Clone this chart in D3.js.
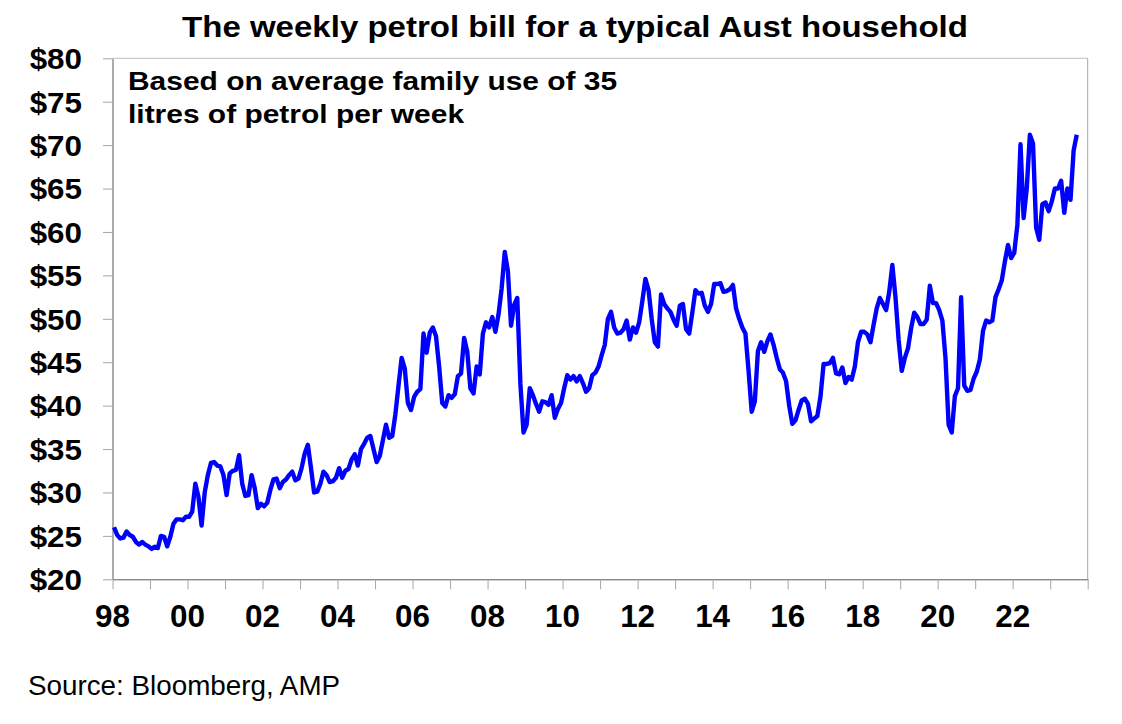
<!DOCTYPE html>
<html>
<head>
<meta charset="utf-8">
<script src="https://cdn.jsdelivr.net/npm/d3@7"></script>
<style>
  body { margin: 0; background: #fff; }
  svg { display: block; font-family: 'Liberation Sans', Arial, sans-serif; }
</style>
</head>
<body>
<div id="chart-area"></div>
<script>
// monthly petrol bill ($/week), Jan 1998 to Sep 2023, one line per year
var weeklyBill = [
    26.0, 25.1, 24.7, 24.8, 25.5, 25.1, 24.9, 24.3, 24.0, 24.3, 24.0, 23.8,
    23.5, 23.75, 23.6, 25.0, 24.9, 23.8, 24.9, 26.4, 26.9, 26.9, 26.8, 27.2,
    27.2, 27.8, 31.0, 29.5, 26.2, 30.0, 32.0, 33.4, 33.5, 33.1, 33.0, 32.0,
    29.7, 32.2, 32.5, 32.6, 34.3, 31.0, 29.6, 29.7, 32.0, 30.5, 28.2, 28.7,
    28.4, 28.8, 30.3, 31.5, 31.6, 30.5, 31.2, 31.5, 32.0, 32.4, 31.4, 31.6,
    32.8, 34.5, 35.5, 32.8, 30.0, 30.1, 31.0, 32.4, 32.0, 31.2, 31.3, 31.7,
    32.8, 31.7, 32.5, 32.7, 33.8, 34.4, 33.1, 35.0, 35.6, 36.3, 36.5, 35.0,
    33.5, 34.2, 36.0, 37.8, 36.3, 36.5, 39.0, 42.3, 45.5, 44.3, 40.3, 39.5,
    41.0, 41.6, 41.9, 48.3, 46.1, 48.4, 49.0, 48.0, 44.5, 40.3, 39.9, 41.2,
    40.9, 41.3, 43.4, 43.7, 47.8, 46.2, 42.0, 41.4, 44.5, 43.6, 48.3, 49.6,
    49.0, 50.2, 48.5, 50.5, 53.5, 57.7, 55.5, 49.2, 51.6, 52.4, 42.5, 36.9,
    37.8, 42.0, 41.2, 40.2, 39.3, 40.5, 40.4, 40.1, 41.2, 38.6, 39.6, 40.3,
    42.0, 43.5, 43.0, 43.4, 42.8, 43.4, 42.6, 41.6, 42.0, 43.5, 43.8, 44.5,
    45.8, 47.0, 50.0, 50.8, 49.0, 48.3, 48.4, 48.8, 49.8, 47.6, 49.0, 48.4,
    49.6, 52.0, 54.6, 53.3, 50.0, 47.3, 46.8, 52.8, 51.7, 51.2, 50.8, 49.9,
    49.2, 51.5, 51.7, 48.8, 48.3, 50.7, 53.3, 52.9, 53.0, 51.5, 50.8, 51.7,
    54.0, 54.0, 54.1, 53.1, 53.2, 53.4, 53.9, 51.2, 50.0, 49.0, 48.3, 44.0,
    39.3, 40.5, 46.3, 47.3, 46.2, 47.4, 48.2, 47.0, 45.5, 44.2, 43.8, 42.8,
    40.0, 37.9, 38.3, 39.5, 40.6, 40.8, 40.2, 38.2, 38.5, 38.8, 41.0, 44.8,
    44.8, 44.9, 45.5, 43.7, 43.6, 44.4, 42.6, 43.3, 43.0, 44.5, 47.3, 48.5,
    48.5, 48.2, 47.3, 49.3, 51.2, 52.4, 51.7, 51.0, 53.1, 56.2, 52.5, 47.6,
    44.0, 45.5, 46.6, 48.9, 50.7, 50.2, 49.4, 49.4, 49.9, 53.8, 51.8, 51.8,
    51.0, 49.8, 45.5, 37.8, 36.9, 41.1, 42.0, 52.5, 42.3, 41.7, 41.8, 43.1,
    43.9, 45.3, 48.6, 49.8, 49.6, 49.8, 52.5, 53.4, 54.4, 56.6, 58.5, 57.0,
    57.6, 60.8, 70.1, 61.6, 65.0, 71.2, 70.2, 60.5, 59.1, 63.2, 63.4, 62.4,
    63.5, 65.0, 65.0, 65.9, 62.2, 65.0, 63.7, 69.4, 71.2
];
var firstYear = 1998, lastYear = 2024;
var yTicks = [20, 25, 30, 35, 40, 45, 50, 55, 60, 65, 70, 75, 80];
var xLabelYears = [1998, 2000, 2002, 2004, 2006, 2008, 2010, 2012, 2014, 2016, 2018, 2020, 2022];
var xLabels = ['98', '00', '02', '04', '06', '08', '10', '12', '14', '16', '18', '20', '22'];
var titleText = 'The weekly petrol bill for a typical Aust household';
var noteLines = ['Based on average family use of 35', 'litres of petrol per week'];
var sourceText = 'Source: Bloomberg, AMP';

var margin = { top: 58.3, right: 34.3, bottom: 144.7, left: 112.5 },
    width = 1122 - margin.left - margin.right,
    height = 724 - margin.top - margin.bottom;

var svg = d3.select('#chart-area')
    .append('svg')
        .attr('width', 1122)
        .attr('height', 724);

var g = svg.append('g')
    .attr('transform', 'translate(' + margin.left + ',' + margin.top + ')');

// text in the original is a little wider than plain Arial, so stretch it
function label(parent, x, y, str, size, weight, sx, anchor) {
    return parent.append('text')
        .attr('transform', 'translate(' + x + ',' + y + ') scale(' + sx + ',1)')
        .attr('text-anchor', anchor)
        .style('font-size', size + 'px')
        .style('font-weight', weight)
        .attr('fill', '#000')
        .text(str);
}

var x = d3.scaleLinear()
    .domain([firstYear, lastYear])
    .range([0, width]);

var y = d3.scaleLinear()
    .domain([20, 80])
    .range([height, 0]);

// frame: top and right borders
g.append('line')
    .attr('x1', 0).attr('x2', width)
    .attr('y1', 0).attr('y2', 0)
    .attr('stroke', '#bfbfbf');
g.append('line')
    .attr('x1', width).attr('x2', width)
    .attr('y1', 0).attr('y2', height)
    .attr('stroke', '#a6a6a6');

var yAxisCall = d3.axisLeft(y)
    .tickValues(yTicks)
    .tickSize(9.5)
    .tickSizeOuter(0)
    .tickFormat('');
var yAxis = g.append('g').call(yAxisCall);
yAxis.select('.domain').attr('stroke', '#595959');
yAxis.selectAll('.tick line').attr('stroke', '#a6a6a6');

var xAxisCall = d3.axisBottom(x)
    .tickValues(d3.range(firstYear, lastYear + 1))
    .tickSize(10)
    .tickSizeOuter(0)
    .tickFormat('');
var xAxis = g.append('g')
    .attr('transform', 'translate(0,' + height + ')')
    .call(xAxisCall);
xAxis.select('.domain').attr('stroke', '#595959');
xAxis.selectAll('.tick line').attr('stroke', '#a6a6a6');

// tick labels
yTicks.forEach(function(v) {
    label(g, -30.5, y(v) + 10.8, '$' + v, 28.8, 'bold', 1.09, 'end');
});
xLabelYears.forEach(function(yr, i) {
    label(g, x(yr), height + 48, xLabels[i], 30.5, 'bold', 1.03, 'middle');
});

// the series, plotted mid-month
var line = d3.line()
    .x(function(d, i) { return x(firstYear + (i + 0.5) / 12); })
    .y(function(d) { return y(d); });

g.append('path')
    .datum(weeklyBill)
    .attr('d', line)
    .attr('fill', 'none')
    .attr('stroke', '#0000ff')
    .attr('stroke-width', 4.4)
    .attr('stroke-linejoin', 'round');

// title, note and source
label(svg, 575, 36.7, titleText, 30.3, 'bold', 1.09, 'middle');
label(svg, 128, 90, noteLines[0], 26.5, 'bold', 1.13, 'start');
label(svg, 128, 122.5, noteLines[1], 26.5, 'bold', 1.13, 'start');
label(svg, 28, 695, sourceText, 27.8, 'normal', 1, 'start');
</script>
</body>
</html>
